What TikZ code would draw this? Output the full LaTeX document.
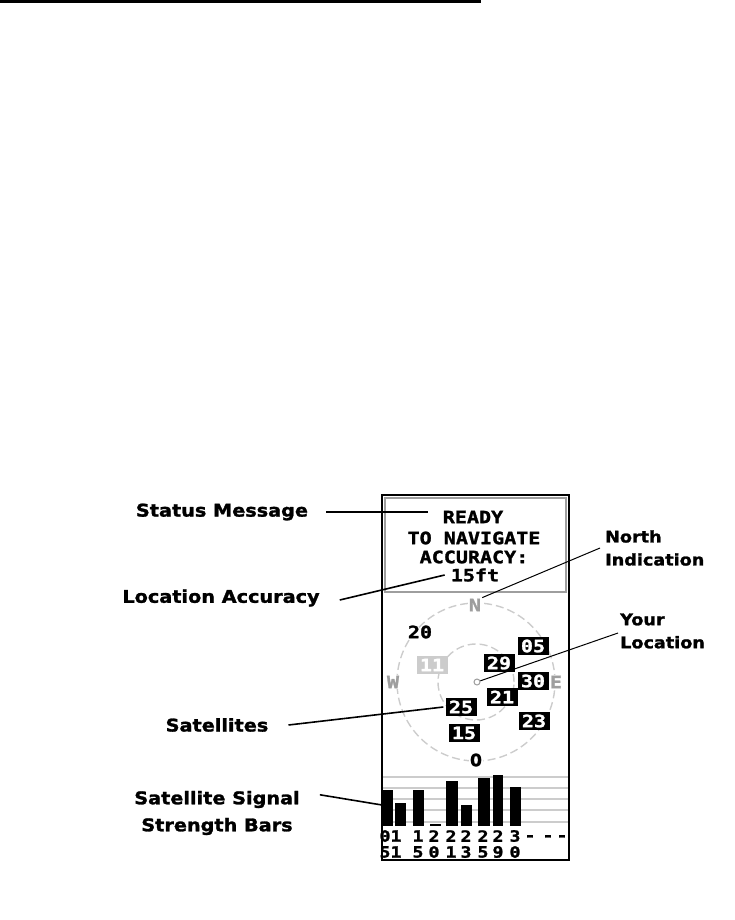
\documentclass[tikz,border=0pt]{standalone}
\usepackage{fontspec}
\setmainfont{DejaVu Sans}
\newfontfamily\lcdfont{DejaVu Sans Mono Bold}[FakeStretch=1.18, FakeBold=1.5]
\newfontfamily\calloutfont{DejaVu Sans Bold}[FakeStretch=1.1, FakeBold=1.5]
\usetikzlibrary{positioning}
\definecolor{lcdgray}{gray}{0.62}
\definecolor{lcdlight}{gray}{0.8}

\tikzset{
  callout/.style={font=\calloutfont\fontsize{17.5}{23}\selectfont, inner sep=0pt},
  calline/.style={line width=1.6pt},
  lcdtext/.style={font=\lcdfont\fontsize{17}{19}\selectfont, inner sep=0pt},
  satbox/.style={fill=black, text=white, minimum width=31pt, minimum height=18pt,
    inner sep=0pt, font=\lcdfont\fontsize{17}{17}\selectfont},
  satfaint/.style={satbox, fill=lcdlight},
  compass/.style={lcdtext, text=lcdgray},
  ringline/.style={lcdlight, line width=1.4pt, dash pattern=on 8pt off 4pt},
  gridline/.style={lcdlight, line width=2pt},
  digit/.style={font=\lcdfont\fontsize{15.5}{15.5}\selectfont, inner sep=0pt}
}

\begin{document}
\begin{tikzpicture}[x=1pt,y=-1pt]
  \useasboundingbox (0,0) rectangle (735,920);
  \draw[line width=3pt] (0,1.5) -- (481,1.5);

  % the unit
  \draw[lcdgray, line width=2.5pt] (385,498) rectangle (566,592);
  \draw[line width=2pt] (382,495) rectangle (569,860);

  % status message
  \node[lcdtext] (ready) at (473,517) {READY};
  \node[lcdtext] (navigate) at (474,538) {TO NAVIGATE};
  \node[lcdtext] (accuracy) at (474,557) {ACCURACY:};
  \node[lcdtext] (fifteen) at (475,575) {15ft};

  % sky view
  \draw[ringline] (476,682) circle[radius=79pt];
  \draw[ringline] (476,682) circle[radius=38pt];
  \node[compass, fill=white, inner sep=1pt] (nmark) at (475,605) {N};
  \node[compass, fill=white, inner sep=1pt] (wmark) at (393,682) {W};
  \node[compass, fill=white, inner sep=1pt] (emark) at (556,682) {E};
  \node[lcdtext, fill=white, inner sep=1pt] (omark) at (476,760) {O};
  \node[circle, draw=lcdgray, line width=1pt, inner sep=0pt, minimum size=6pt] (youdot) at (477,682) {};
  \node[lcdtext] (s20) at (420,632) {20};
  \node[satfaint] (s11) at (432,665) {11};
  \node[satbox] (s05) at (533,646) {05};
  \node[satbox] (s29) at (499,663) {29};
  \node[satbox] (s30) at (533,681) {30};
  \node[satbox] (s21) at (502,697) {21};
  \node[satbox] (s25) at (461,707) {25};
  \node[satbox] (s23) at (534,721) {23};
  \node[satbox] (s15) at (464,733) {15};

  % signal strength
  \foreach \y in {777,788,799,810,822}
    \draw[gridline] (383,\y) -- (568,\y);
  \foreach \x/\w/\t in {382/11/790, 395/11/803, 413/11/790, 430/11/824, 446/12/781,
                        461/11/805, 478/12/778, 493/10/775, 510/11/787}
    \fill (\x,\t) rectangle (\x+\w,826);
  \foreach \x/\a/\b in {385/0/5, 396/1/1, 418/1/5, 434/2/0, 451/2/1,
                        466/2/3, 483/2/5, 498/2/9, 515/3/0}{
    \node[digit] at (\x,836) {\a};
    \node[digit] at (\x,852) {\b};
  }
  \foreach \x in {530,548,562}
    \node[digit] at (\x,838) {-};

  % callouts
  \node[callout] (status) at (222,512) {Status Message};
  \node[callout] (locacc) at (221,598) {Location Accuracy};
  \node[callout, anchor=west, align=left, font=\calloutfont\fontsize{16}{23}\selectfont] (north) at (605,548) {North\\Indication};
  \node[callout, anchor=west, align=left, font=\calloutfont\fontsize{16}{23}\selectfont] (your) at (620,631) {Your\\Location};
  \node[callout] (satlabel) at (217,725) {Satellites};
  \node[callout, align=center, font=\calloutfont\fontsize{17.5}{27}\selectfont] (sigbars) at (217,813) {Satellite Signal\\Strength Bars};
  \coordinate (baredge) at (382,805);

  \draw[calline] ([xshift=18pt]status.east) -- ([xshift=-15pt]status.east -| ready.west);
  \draw[calline] ([xshift=20pt,yshift=-2pt]locacc.east) -- ([xshift=-6pt]fifteen.west);
  \draw[calline, line width=1pt] ([xshift=-5pt]north.west) -- (nmark.north east);
  \draw[calline, line width=1pt] ([xshift=-2pt,yshift=-2pt]your.west) -- (youdot);
  \draw[calline] ([xshift=20pt]satlabel.east) -- ([xshift=-2pt]s25.west);
  \draw[calline] ([xshift=20pt,yshift=-4pt]sigbars.north east) -- (baredge);
\end{tikzpicture}
\end{document}
